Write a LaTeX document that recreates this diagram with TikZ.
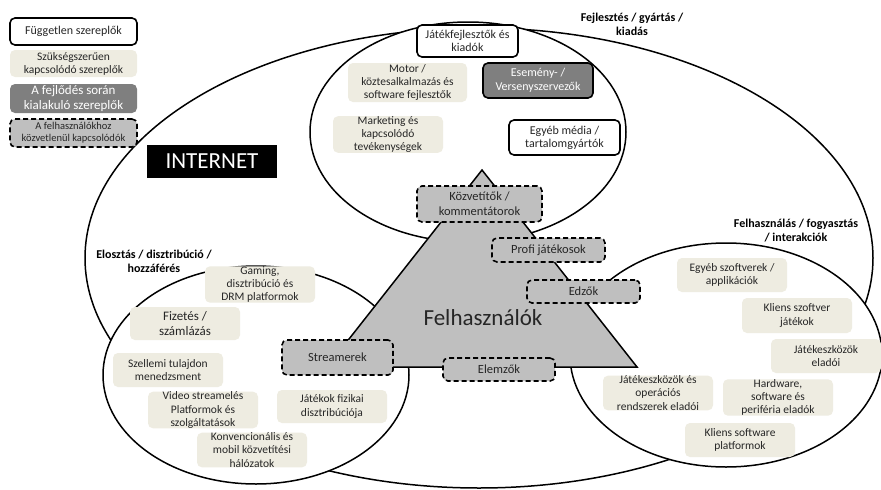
\documentclass[tikz,border=0pt]{standalone}
\usepackage{fontspec}
\setmainfont{Carlito}
\definecolor{beige}{HTML}{EEECE1}
\definecolor{darkgrey}{HTML}{7F7F7F}
\definecolor{lightgrey}{HTML}{BFBFBF}
\newcommand{\bw}{110pt}
\newcommand{\bh}{34pt}

\begin{document}
\begin{tikzpicture}[x=1pt, y=-1pt,
    box/.style={rectangle, rounded corners=5pt, minimum width=\bw, minimum height=\bh, inner sep=0pt, align=center, font=\fontsize{11.5}{13.3}\selectfont, text=black!85},
    indep/.style={box, draw, fill=white, line width=1.6pt, font=\fontsize{12}{13}\selectfont},
    needed/.style={box, fill=beige},
    evolved/.style={box, fill=darkgrey, text=white, font=\fontsize{12}{13.5}\selectfont},
    direct/.style={box, draw, fill=lightgrey, line width=1.6pt, dash pattern=on 5pt off 3pt, font=\fontsize{12.5}{15}\selectfont},
    zone/.style={draw, fill=white, line width=1.5pt},
    zonename/.style={font=\bfseries\fontsize{12}{14}\selectfont, align=center}]
    \useasboundingbox (0,0) rectangle (881,490);

    % Areas
    \draw[zone] (479,258) ellipse [x radius=394, y radius=230];
    \draw[zone] (468,132) ellipse [x radius=158, y radius=110];
    \draw[zone] (256,375) ellipse [x radius=153, y radius=109];
    \draw[zone] (726,355) ellipse [x radius=156, y radius=112];
    \draw[line width=1.5pt, fill=lightgrey] (482,170) -- (637,367) -- (327,367) -- cycle;

    % Legend
    \node[indep, minimum width=127pt, minimum height=27pt] (leg-1) at (73.5,31.5) {Független szereplők};
    \node[needed, minimum width=127pt, minimum height=27pt, font=\fontsize{11.5}{13}\selectfont] (leg-2) at (73.5,63.5) {Szükségszerűen\\kapcsolódó szereplők};
    \node[evolved, minimum width=127pt, minimum height=29pt, font=\fontsize{13}{15}\selectfont] (leg-3) at (73.5,98.5) {A fejlődés során\\kialakuló szereplők};
    \node[direct, minimum width=127pt, minimum height=28pt, font=\fontsize{10.5}{12.3}\selectfont] (leg-4) at (73.5,133) {A felhasználókhoz\\közvetlenül kapcsolódók};
    \node[fill=black, text=white, minimum width=130pt, minimum height=33pt, inner sep=0pt, font=\fontsize{23}{26}\selectfont] (internet) at (212,161.5) {INTERNET};

    % Fejlesztés
    \node[indep, minimum width=101pt, minimum height=32pt] (dev-1) at (467.5,41) {Játékfejlesztők és\\kiadók};
    \node[needed, minimum width=119pt, minimum height=39pt] (dev-2) at (407.5,82.5) {Motor /\\köztesalkalmazás és\\software fejlesztők};
    \node[evolved, draw=black, line width=1.6pt, minimum height=35pt] (dev-3) at (538,80.5) {Esemény- /\\Versenyszervezők};
    \node[needed, minimum height=35pt] (dev-4) at (388,134.5) {Marketing és\\kapcsolódó\\tevékenységek};
    \node[indep, minimum width=111pt, minimum height=35pt] (dev-5) at (564.5,137.5) {Egyéb média /\\tartalomgyártók};

    % Felhasználók
    \node[font=\fontsize{23}{26}\selectfont, text=black!85] (users) at (483,318) {Felhasználók};
    \node[direct, minimum width=125pt, minimum height=36pt] (usr-1) at (479.5,204) {Közvetítők /\\kommentátorok};
    \node[direct, minimum width=113pt, minimum height=24pt] (usr-2) at (548.5,250) {Profi játékosok};
    \node[direct, minimum width=113pt, minimum height=23pt] (usr-3) at (583.5,291.5) {Edzők};
    \node[direct, minimum width=111pt, minimum height=35pt] (usr-4) at (337.5,357.5) {Streamerek};
    \node[direct, minimum width=112pt, minimum height=23pt] (usr-5) at (499,369.5) {Elemzők};

    % Elosztás
    \node[needed, minimum height=35pt] (dist-1) at (260,284.5) {Gaming,\\disztribúció és\\DRM platformok};
    \node[needed, minimum height=33pt, font=\fontsize{13}{15}\selectfont] (dist-2) at (185,323.5) {Fizetés /\\számlázás};
    \node[needed] (dist-3) at (168,370) {Szellemi tulajdon\\menedzsment};
    \node[needed] (dist-4) at (203,410) {Video streamelés\\Platformok és\\szolgáltatások};
    \node[needed, minimum height=33pt] (dist-5) at (332,406.5) {Játékok fizikai\\disztribúciója};
    \node[needed] (dist-6) at (252,450) {Konvencionális és\\mobil közvetítési\\hálózatok};

    % Felhasználás
    \node[needed] (use-1) at (732,275) {Egyéb szoftverek /\\applikációk};
    \node[needed, minimum height=35pt] (use-2) at (797,315.5) {Kliens szoftver\\játékok};
    \node[needed] (use-3) at (826,356) {Játékeszközök\\eladói};
    \node[needed] (use-4) at (658,393) {Játékeszközök és\\operációs\\rendszerek eladói};
    \node[needed, minimum height=35pt] (use-5) at (778,397.5) {Hardware,\\software és\\periféria eladók};
    \node[needed] (use-6) at (740,440) {Kliens software\\platformok};

    % Area names
    \node[zonename] (name-dev) at (632,24.5) {Fejlesztés / gyártás /\\kiadás};
    \node[zonename] (name-dist) at (154,261.5) {Elosztás / disztribúció /\\hozzáférés};
    \node[zonename] (name-use) at (796,230.5) {Felhasználás / fogyasztás\\/ interakciók};

\end{tikzpicture}
\end{document}
